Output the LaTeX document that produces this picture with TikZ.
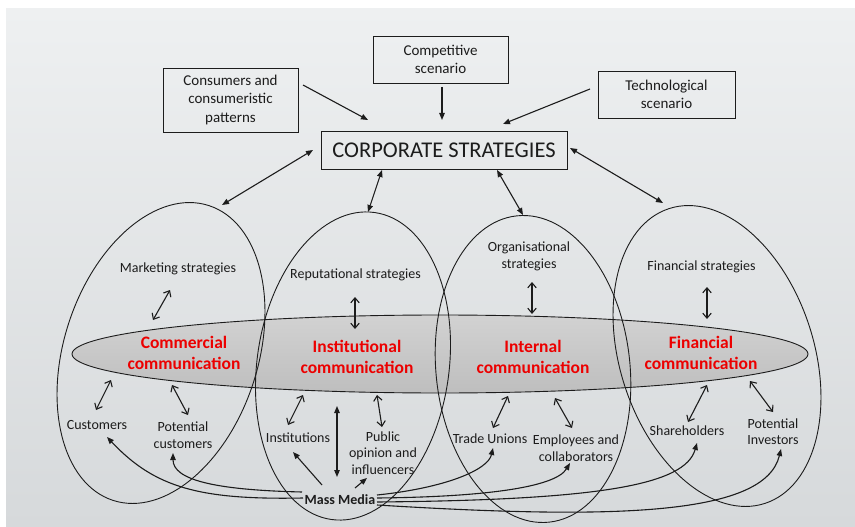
\documentclass[tikz,border=0pt]{standalone}
\usepackage{fontspec}
\setmainfont{Carlito}
\usetikzlibrary{shapes.geometric,arrows.meta}
\definecolor{ink}{RGB}{28,28,28}
\definecolor{redtxt}{RGB}{236,0,0}
\definecolor{bgtop}{RGB}{238,240,241}
\definecolor{bgbot}{RGB}{214,217,219}
\definecolor{bandtop}{RGB}{210,210,210}
\definecolor{bandbot}{RGB}{190,190,190}

\begin{document}
\begin{tikzpicture}[x=1pt,y=-1pt,
  every node/.style={text=ink, font=\fontsize{14}{16.5}\selectfont, align=center, inner sep=0pt},
  box/.style={draw=ink, line width=0.9pt, font=\fontsize{15}{18.5}\selectfont},
  oval/.style={ellipse, draw=ink, line width=0.9pt, inner sep=0pt},
  redlbl/.style={text=redtxt, font=\bfseries\fontsize{17.5}{21}\selectfont},
  tip/.style={-{Triangle[length=7pt,width=5.5pt]}, draw=ink, line width=1.1pt},
  both/.style={{Triangle[length=7pt,width=5.5pt]}-{Triangle[length=7pt,width=5.5pt]}, draw=ink, line width=1.1pt},
  barb/.style={{Straight Barb[length=5pt,width=8.5pt]}-{Straight Barb[length=5pt,width=8.5pt]}, draw=ink, line width=1.1pt},
]
% page and paper background
\fill[white] (0,0) rectangle (855,527);
\shade[top color=bgtop, bottom color=bgbot] (6,9) rectangle (855,527);
\useasboundingbox (0,0) rectangle (855,527);

% environment boxes and the central strategy box
\node[box, minimum width=135pt, minimum height=64pt] (cons) at (230.5,100) {Consumers and\\consumeristic\\patterns};
\node[box, minimum width=135pt, minimum height=47pt] (comp) at (440.5,59.5) {Competitive\\scenario};
\node[box, minimum width=137pt, minimum height=47pt] (tech) at (666.5,94.5) {Technological\\scenario};
\node[box, minimum width=246pt, minimum height=38pt, font=\fontsize{22.5}{26}\selectfont] (corp) at (444,150) {CORPORATE STRATEGIES};

% grey communication band
\node[ellipse, draw=ink, line width=0.9pt, top color=bandtop, bottom color=bandbot,
      minimum width=736pt, minimum height=78pt] (band) at (440,354) {};

% the four strategy areas
\node[oval, minimum width=194pt, minimum height=310pt, rotate=-18] (e1) at (161,353) {};
\node[oval, minimum width=192pt, minimum height=310pt, rotate=-8] (e2) at (353,366) {};
\node[oval, minimum width=194pt, minimum height=308pt, rotate=6] (e3) at (533,369) {};
\node[oval, minimum width=194pt, minimum height=310pt, rotate=18] (e4) at (717,356) {};

% strategy labels
\node (mkt) at (178,269) {Marketing strategies};
\node (rep) at (355.5,275) {Reputational strategies};
\node[font=\fontsize{14}{17}\selectfont] (org) at (529,256.5) {Organisational\\strategies};
\node (fin) at (701.5,267) {Financial strategies};

% communication labels
\node[redlbl] (comm) at (184,352.5) {Commercial\\communication};
\node[redlbl] (inst) at (357,356.5) {Institutional\\communication};
\node[redlbl] (intc) at (533,356.5) {Internal\\communication};
\node[redlbl] (finc) at (701,352.5) {Financial\\communication};

% audiences
\node (cust) at (97,425) {Customers};
\node (pcust) at (183,435) {Potential\\customers};
\node (instn) at (298,438) {Institutions};
\node (pub) at (383,453) {Public\\opinion and\\influencers};
\node (tu) at (490,439) {Trade Unions};
\node (emp) at (576,448) {Employees and\\collaborators};
\node (sh) at (687,431) {Shareholders};
\node (pinv) at (773,431.5) {Potential\\Investors};
\node[font=\bfseries\fontsize{14}{16}\selectfont] (mm) at (340,500) {Mass Media};

% connector end points
\coordinate (consOut) at (303,85);   \coordinate (corpInL) at (368,120);
\coordinate (compOut) at (442,87);   \coordinate (corpInM) at (442,120);
\coordinate (techOut) at (590,89);   \coordinate (corpInR) at (503,124);
\coordinate (corpW) at (313,150);    \coordinate (e1top) at (222,205);
\coordinate (corpS1) at (382,170);   \coordinate (e2top) at (368,212);
\coordinate (corpS2) at (497,170);   \coordinate (e3top) at (523,215);
\coordinate (corpE) at (570,148);    \coordinate (e4top) at (663,203);

\coordinate (mktA) at (170,290);  \coordinate (mktB) at (153,320);
\coordinate (repA) at (355,297);  \coordinate (repB) at (355,329);
\coordinate (orgA) at (532,282);  \coordinate (orgB) at (532,314);
\coordinate (finA) at (707,287);  \coordinate (finB) at (707,319);

\coordinate (custA) at (111,380);  \coordinate (custB) at (96,410);
\coordinate (pcusA) at (172,385);  \coordinate (pcusB) at (188,415);
\coordinate (instA) at (303,395);  \coordinate (instB) at (288,425);
\coordinate (vertA) at (337,406);  \coordinate (vertB) at (337,477);
\coordinate (pubA) at (377,395);   \coordinate (pubB) at (382,427);
\coordinate (tuA) at (508,396);    \coordinate (tuB) at (493,428);
\coordinate (empA) at (555,398);   \coordinate (empB) at (572,428);
\coordinate (shA) at (707,385);    \coordinate (shB) at (688,422);
\coordinate (pinA) at (750,381);   \coordinate (pinB) at (773,412);

\coordinate (mmL1) at (302,492);  \coordinate (mmL2) at (303,498);
\coordinate (mmI) at (322,485);   \coordinate (instTip) at (293,452);
\coordinate (mmP) at (355,488);   \coordinate (pubTip) at (367,478);
\coordinate (mmR1) at (377,495);  \coordinate (mmR2) at (377,498);
\coordinate (mmR3) at (377,502);  \coordinate (mmR4) at (377,505);
\coordinate (custTip) at (107,437);  \coordinate (pcusTip) at (173,453);
\coordinate (tuTip) at (493,448);    \coordinate (empTip) at (570,463);
\coordinate (shTip) at (697,443);    \coordinate (pinTip) at (781,449);

% environment arrows into the strategy box
\draw[tip] (consOut) -- (corpInL);
\draw[tip] (compOut) -- (corpInM);
\draw[tip] (techOut) -- (corpInR);

% strategy box to the four areas
\draw[both] (corpW) -- (e1top);
\draw[both] (corpS1) -- (e2top);
\draw[both] (corpS2) -- (e3top);
\draw[both] (corpE) -- (e4top);

% strategies to communication
\draw[barb] (mktA) -- (mktB);
\draw[barb] (repA) -- (repB);
\draw[barb] (orgA) -- (orgB);
\draw[barb] (finA) -- (finB);

% communication to audiences
\draw[barb] (custA) -- (custB);
\draw[barb] (pcusA) -- (pcusB);
\draw[barb] (instA) -- (instB);
\draw[both] (vertA) -- (vertB);
\draw[barb] (pubA) -- (pubB);
\draw[barb] (tuA) -- (tuB);
\draw[barb] (empA) -- (empB);
\draw[barb] (shA) -- (shB);
\draw[barb] (pinA) -- (pinB);

% mass media reach
\draw[tip] (mmI) -- (instTip);
\draw[tip] (mmP) -- (pubTip);
\draw[tip] (mmL2) .. controls (200,500) and (155,488) .. (custTip);
\draw[tip] (mmL1) .. controls (215,490) and (173,480) .. (pcusTip);
\draw[tip] (mmR1) .. controls (445,488) and (488,470) .. (tuTip);
\draw[tip] (mmR2) .. controls (480,497) and (555,488) .. (empTip);
\draw[tip] (mmR3) .. controls (600,500) and (685,485) .. (shTip);
\draw[tip] (mmR4) .. controls (620,520) and (765,515) .. (pinTip);
\end{tikzpicture}
\end{document}
